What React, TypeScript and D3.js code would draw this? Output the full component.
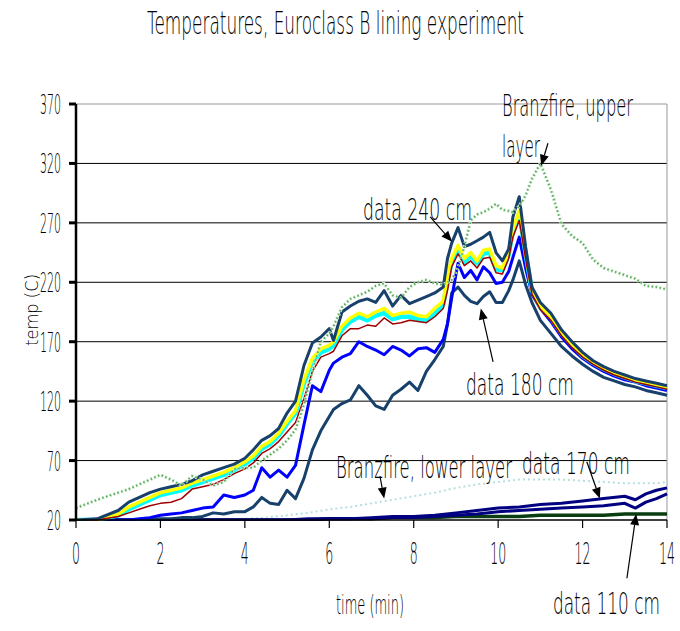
import React from 'react';
import * as d3 from 'd3';

// ---- shared time grid (minutes) for the upper-group series ----
const minutes = [0, 0.5, 1, 1.25, 1.5, 1.75, 2, 2.25, 2.5, 2.75, 3, 3.25, 3.5, 3.75, 4, 4.2, 4.4, 4.6, 4.8, 5, 5.2, 5.4, 5.6, 5.8, 6, 6.1, 6.3, 6.5, 6.7, 6.9, 7.1, 7.3, 7.5, 7.7, 7.9, 8.1, 8.3, 8.5, 8.7, 8.8, 8.9, 9.05, 9.2, 9.35, 9.5, 9.65, 9.8, 9.95, 10.1, 10.25, 10.35, 10.5, 10.65, 10.8, 11, 11.25, 11.5, 11.75, 12, 12.25, 12.5, 12.75, 13, 13.25, 13.5, 13.75, 14];

const data240 = [20, 21, 28, 35, 39, 43, 46, 48, 50, 53, 58, 61, 64, 67, 72, 79, 87, 91, 97, 110, 120, 150, 169, 174, 181, 171, 195, 200, 204, 206, 203, 213, 200, 209, 202, 205, 208, 211, 216, 240, 253, 266, 250, 252, 255, 258, 262, 245, 238, 248, 275, 292, 250, 216, 203, 194, 180, 170, 161, 154, 149, 145, 142, 139, 137, 135, 133];
const yellowSeries = [20, 20, 25, 31, 35, 39, 43, 45, 47, 51, 54, 57, 60, 64, 69, 74, 82, 86, 93, 103, 112, 138, 156, 164, 167, 170, 183, 190, 194, 191, 195, 198, 192, 194, 195, 192, 191, 198, 204, 225, 240, 251, 240, 245, 238, 247, 248, 234, 232, 245, 265, 280, 245, 214, 200, 191, 178, 168, 159, 153, 148, 144, 141, 138, 136, 134, 132];
const cyanSeries = [20, 20, 24, 29, 33, 37, 41, 43, 45, 49, 52, 55, 58, 62, 67, 72, 80, 84, 91, 101, 110, 135, 153, 161, 164, 167, 180, 187, 191, 188, 192, 194, 189, 191, 191, 189, 188, 194, 201, 222, 237, 248, 237, 242, 236, 244, 245, 231, 230, 243, 264, 278, 244, 213, 199, 190, 177, 167, 158, 152, 147, 143, 140, 137, 135, 133, 131];
const redSeries = [20, 20, 23, 26, 29, 32, 34, 35, 38, 46, 48, 50, 54, 59, 63, 68, 76, 80, 86, 94, 102, 122, 145, 157, 160, 162, 175, 181, 181, 184, 183, 190, 185, 186, 188, 187, 186, 191, 198, 213, 233, 244, 234, 238, 232, 240, 241, 228, 227, 240, 258, 272, 240, 210, 197, 188, 175, 165, 157, 151, 146, 142, 139, 136, 134, 132, 130];
const blueSeries = [20, 20, 20, 20, 21, 22, 24, 25, 26, 28, 30, 31, 41, 39, 41, 45, 64, 56, 62, 56, 66, 100, 133, 128, 146, 152, 157, 160, 170, 166, 163, 159, 166, 163, 158, 164, 165, 161, 172, 185, 207, 236, 224, 230, 222, 233, 228, 219, 220, 229, 241, 258, 232, 210, 198, 187, 174, 164, 156, 150, 145, 141, 138, 136, 133, 131, 129];
const data180 = [20, 20, 20, 20, 20, 21, 21, 21, 22, 22, 23, 26, 25, 27, 27, 31, 39, 34, 33, 45, 38, 55, 79, 95, 107, 113, 118, 121, 133, 125, 116, 113, 125, 130, 136, 129, 145, 155, 166, 185, 211, 216, 209, 204, 202, 208, 212, 203, 203, 213, 222, 238, 218, 203, 188, 177, 166, 158, 151, 145, 140, 137, 134, 132, 129, 127, 125];
const branzUpper = [30, 37, 43, 46, 50, 54, 58, 54, 49, 57, 54, 49, 52, 63, 64, 64, 70, 75, 80, 87, 96, 117, 145, 170, 177, 183, 199, 206, 209, 212, 217, 219, 209, 207, 216, 220, 222, 219, 218, 220, 222, 232, 250, 272, 277, 279, 282, 286, 281, 280, 279, 284, 293, 307, 320, 298, 269, 259, 253, 239, 232, 229, 226, 223, 217, 216, 214];

// ---- lower-group series on their own grid ----
const lowMinutes = [0, 1, 2, 3, 4, 4.5, 5, 5.5, 6, 6.5, 7, 7.5, 8, 8.5, 9, 9.5, 10, 10.5, 11, 11.5, 12, 12.5, 13, 13.25, 13.5, 13.75, 14];
const branzLower = [20, 20, 20, 20, 21, 22, 24, 26, 29, 31, 34, 37, 40, 43, 47, 50, 52, 54, 54, 54, 53, 52, 51, 51, 51, 51, 52];
const data170 = [20, 20, 20, 20, 20, 20, 20, 21, 21, 21, 22, 23, 23, 24, 26, 28, 30, 31, 33, 34, 36, 38, 40, 37, 42, 45, 47];
const data170b = [20, 20, 20, 20, 20, 20, 20, 20, 21, 21, 21, 22, 22, 23, 24, 25, 27, 28, 29, 30, 31, 32, 34, 30, 35, 38, 42];
const data110 = [20, 20, 20, 20, 20, 20, 20, 20, 21, 21, 21, 22, 22, 22, 23, 23, 23, 23, 24, 24, 24, 24, 25, 25, 25, 25, 25];

const yTicks = [20, 70, 120, 170, 220, 270, 320, 370];
const xTicks = [0, 2, 4, 6, 8, 10, 12, 14];

const FONT = '"DejaVu Sans ExtraLight", "DejaVu Sans Light", "DejaVu Sans", sans-serif';

const x = d3.scaleLinear().domain([0, 14]).range([76, 667]);
const y = d3.scaleLinear().domain([20, 370]).range([520, 104]);

function CText({ x: tx, y: ty, w, size, children, anchor = 'start', rotate = 0 }: any) {
  let sx = tx;
  if (anchor === 'middle') sx = tx - w / 2;
  if (anchor === 'end') sx = tx - w;
  if (rotate) {
    return (
      <g transform={`translate(${tx},${ty}) rotate(${rotate})`}>
        <text x={-w / 2} y={0} fontSize={size} fontFamily={FONT} fontWeight={200}
          textLength={w} lengthAdjust="spacingAndGlyphs" fill="#000">{children}</text>
      </g>
    );
  }
  return (
    <text x={sx} y={ty} fontSize={size} fontFamily={FONT} fontWeight={200}
      textLength={w} lengthAdjust="spacingAndGlyphs" fill="#000">{children}</text>
  );
}

function Arrow({ t0, v0, t1, v1 }: any) {
  const x0 = x(t0), y0 = y(v0), x1 = x(t1), y1 = y(v1);
  const ang = Math.atan2(y1 - y0, x1 - x0);
  const L = 11, W = 4.5;
  const bx = x1 - L * Math.cos(ang), by = y1 - L * Math.sin(ang);
  const p = [
    [x1, y1],
    [bx + W * Math.sin(ang), by - W * Math.cos(ang)],
    [bx - W * Math.sin(ang), by + W * Math.cos(ang)],
  ];
  return (
    <g>
      <line x1={x0} y1={y0} x2={bx} y2={by} stroke="#000" strokeWidth={1.2} />
      <polygon points={p.map((q) => q.join(',')).join(' ')} fill="#000" />
    </g>
  );
}

export default function App() {
  const line = d3.line<[number, number]>().x((d) => x(d[0])).y((d) => y(d[1]));
  const mk = (ts: number[], vs: number[]) => line(ts.map((t, i) => [t, vs[i]] as [number, number])) || '';

  const upper = (vs: number[]) => mk(minutes, vs);
  const lower = (vs: number[]) => mk(lowMinutes, vs);

  return (
    <svg width={680} height={631} style={{ position: 'absolute', left: 0, top: 0, background: '#fff' }}>
      <rect x={0} y={0} width={680} height={631} fill="#fff" />
      <defs>
        <clipPath id="plot"><rect x={76} y={100} width={592} height={421} /></clipPath>
      </defs>

      {/* title */}
      <CText x={147} y={34} w={377} size={32}>Temperatures, Euroclass B lining experiment</CText>

      {/* gridlines */}
      {yTicks.slice(1, -1).map((v) => (
        <line key={v} x1={76} x2={667} y1={y(v)} y2={y(v)} stroke="#000" strokeWidth={1} />
      ))}
      <line x1={76} x2={667} y1={y(370)} y2={y(370)} stroke="#999" strokeWidth={1} />
      <line x1={667} x2={667} y1={y(370)} y2={y(20)} stroke="#999" strokeWidth={1} />

      {/* series */}
      <g clipPath="url(#plot)" fill="none" strokeLinejoin="round">
        <path d={lower(branzLower)} stroke="#b8dede" strokeWidth={2} strokeDasharray="2 3" />
        <path d={lower(data110)} stroke="#0b3d12" strokeWidth={3.5} />
        <path d={lower(data170b)} stroke="#000080" strokeWidth={3} />
        <path d={lower(data170)} stroke="#000080" strokeWidth={3} />
        <path d={upper(data180)} stroke="#17406b" strokeWidth={3} />
        <path d={upper(blueSeries)} stroke="#0000ff" strokeWidth={3} />
        <path d={upper(cyanSeries)} stroke="#00ffff" strokeWidth={4.5} />
        <path d={upper(yellowSeries)} stroke="#ffff00" strokeWidth={3.5} />
        <path d={upper(redSeries)} stroke="#a00000" strokeWidth={1.5} />
        <path d={upper(data240)} stroke="#17406b" strokeWidth={3} />
        <path d={upper(branzUpper)} stroke="#c4e4c4" strokeWidth={3.5} strokeDasharray="2 2" />
        <path d={upper(branzUpper)} stroke="#4fa64f" strokeWidth={1.6} strokeDasharray="1.5 2.5" />
      </g>

      {/* axes */}
      <line x1={76} x2={667} y1={520} y2={520} stroke="#000" strokeWidth={1.5} />
      <line x1={76} x2={76} y1={104} y2={521} stroke="#000" strokeWidth={2.5} />
      {yTicks.map((v) => (
        <g key={v}>
          <line x1={69} x2={76} y1={y(v)} y2={y(v)} stroke="#000" strokeWidth={3} />
          <CText x={61} y={y(v) + 10} w={String(v).length * 7} size={27} anchor="end">{String(v)}</CText>
        </g>
      ))}
      {xTicks.map((v) => (
        <g key={v}>
          <line x1={x(v)} x2={x(v)} y1={520} y2={528} stroke="#000" strokeWidth={1.2} />
          <CText x={x(v)} y={564} w={String(v).length * 8} size={30} anchor="middle">{String(v)}</CText>
        </g>
      ))}
      <CText x={336} y={614} w={68} size={26}>time (min)</CText>
      <CText x={38} y={310} w={72} size={18} rotate={-90}>temp (C)</CText>

      {/* annotations */}
      <CText x={502} y={116} w={131} size={31}>Branzfire, upper</CText>
      <CText x={502} y={157} w={38} size={31}>layer</CText>
      <Arrow t0={11.18} v0={337} t1={11.02} v1={318} />

      <CText x={363} y={220} w={109} size={31}>data 240 cm</CText>
      <Arrow t0={8.39} v0={275} t1={8.91} v1={254} />

      <CText x={466} y={395} w={108} size={31}>data 180 cm</CText>
      <Arrow t0={9.88} v0={153} t1={9.59} v1={198} />

      <CText x={336} y={478} w={176} size={31}>Branzfire, lower layer</CText>
      <Arrow t0={7.2} v0={57} t1={7.3} v1={38} />

      <CText x={522} y={474} w={108} size={31}>data 170 cm</CText>
      <Arrow t0={12.1} v0={69} t1={12.41} v1={38} />

      <CText x={553} y={614} w={107} size={31}>data 110 cm</CText>
      <Arrow t0={13.05} v0={-29} t1={13.27} v1={25} />
    </svg>
  );
}
